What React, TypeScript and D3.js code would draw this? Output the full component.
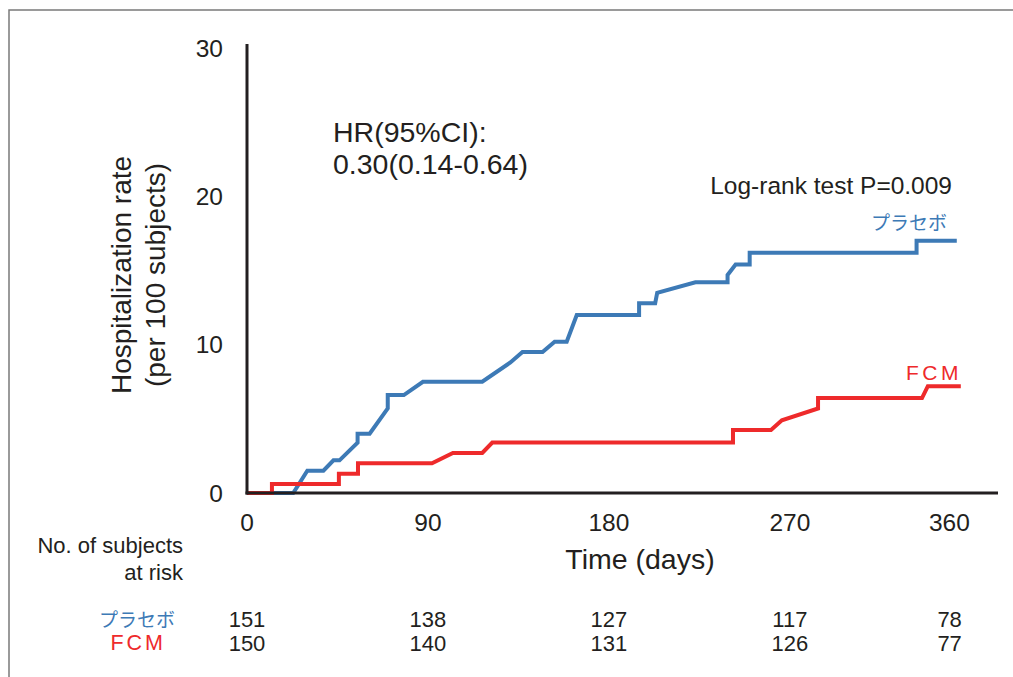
import * as d3 from 'd3';

const W = 1013;
const H = 677;

// Kaplan–Meier style cumulative hospitalization (per 100 subjects)
const placeboDays = [0, 23, 30, 38, 43, 46, 55, 55, 61, 70, 70, 78, 87.5, 117, 131, 137, 147, 153, 159, 164, 195, 195, 203, 204, 223, 239, 239, 243, 250, 250, 333, 333, 353];
const placeboRate = [0, 0, 1.5, 1.5, 2.2, 2.2, 3.4, 4.0, 4.0, 5.7, 6.6, 6.6, 7.5, 7.5, 8.8, 9.5, 9.5, 10.2, 10.2, 12.0, 12.0, 12.8, 12.8, 13.5, 14.2, 14.2, 14.7, 15.4, 15.4, 16.2, 16.2, 17.0, 17.0];

const fcmDays = [0, 12.4, 12.4, 45.7, 45.7, 55.2, 55.2, 92, 102.4, 117, 122, 241.7, 241.7, 260.6, 266, 284, 284, 335.7, 338.6, 355];
const fcmRate = [0, 0, 0.6, 0.6, 1.3, 1.3, 2.0, 2.0, 2.7, 2.7, 3.4, 3.4, 4.25, 4.25, 4.9, 5.7, 6.4, 6.4, 7.2, 7.2];

const xTicks = [0, 90, 180, 270, 360];
const yTicks = [0, 10, 20, 30];
const atRiskPlacebo = [151, 138, 127, 117, 78];
const atRiskFcm = [150, 140, 131, 126, 77];

const BLUE = '#3d7ab6';
const RED = '#ee2a2b';
const INK = '#231f20';
const FONT = '"Liberation Sans", Arial, sans-serif';
const JP = '"Noto Sans CJK JP", "Noto Sans", sans-serif';

const x = d3.scaleLinear().domain([0, 373]).range([247, 997]);
const y = d3.scaleLinear().domain([0, 30]).range([493, 48]);

const line = d3.line<[number, number]>()
    .x(d => x(d[0]))
    .y(d => y(d[1]));

export default function App() {
    const placebo = placeboDays.map((d, i) => [d, placeboRate[i]] as [number, number]);
    const fcm = fcmDays.map((d, i) => [d, fcmRate[i]] as [number, number]);
    const last = xTicks.length - 1;

    return (
        <svg width={W} height={H} style={{ position: 'absolute', left: 0, top: 0, background: '#fff' }}>
            {/* frame */}
            <path d={`M9,${H} L9,10 L${W},10`} fill="none" stroke="#7a7a7a" strokeWidth={1.5} />

            {/* curves */}
            <path d={line(placebo) || ''} fill="none" stroke={BLUE} strokeWidth={4} strokeLinejoin="miter" />
            <path d={line(fcm) || ''} fill="none" stroke={RED} strokeWidth={4} strokeLinejoin="miter" />

            {/* axes */}
            <line x1={x(0)} x2={x(0)} y1={44} y2={y(0) + 1.5} stroke={INK} strokeWidth={3} />
            <line x1={x(0) - 1.5} x2={998} y1={y(0)} y2={y(0)} stroke={INK} strokeWidth={3} />

            {yTicks.map(t => (
                <text key={t} x={223} y={y(t)} dy="0.36em" textAnchor="end" fontFamily={FONT} fontSize={24.5} fill={INK}>{t}</text>
            ))}
            {xTicks.map((t, i) => (
                <text key={t} x={i === last ? x(t) - 1 : x(t)} y={531} textAnchor={i === last ? 'end' : 'middle'}
                    fontFamily={FONT} fontSize={24.5} fill={INK}>{t}</text>
            ))}

            {/* axis titles */}
            <g transform="translate(131,275) rotate(-90)">
                <text x={0} y={0} textAnchor="middle" fontFamily={FONT} fontSize={28} fill={INK}>Hospitalization rate</text>
                <text x={0} y={34} textAnchor="middle" fontFamily={FONT} fontSize={28} fill={INK}>(per 100 subjects)</text>
            </g>
            <text x={640} y={569} textAnchor="middle" fontFamily={FONT} fontSize={28.5} fill={INK}>Time (days)</text>

            {/* annotations */}
            <text x={333} y={142} fontFamily={FONT} fontSize={28.5} fill={INK}>HR(95%CI):</text>
            <text x={333} y={174} fontFamily={FONT} fontSize={28.5} fill={INK}>0.30(0.14-0.64)</text>
            <text x={952} y={194} textAnchor="end" fontFamily={FONT} fontSize={24.5} fill={INK}>Log-rank test P=0.009</text>
            <text x={947} y={230} textAnchor="end" fontFamily={JP} fontSize={19} fill={BLUE}>プラセボ</text>
            <text x={962} y={380} textAnchor="end" fontFamily={FONT} fontSize={21} letterSpacing={3.5} fill={RED}>FCM</text>

            {/* number at risk */}
            <text x={183} y={553} textAnchor="end" fontFamily={FONT} fontSize={22} fill={INK}>No. of subjects</text>
            <text x={183} y={580} textAnchor="end" fontFamily={FONT} fontSize={22} fill={INK}>at risk</text>
            <text x={175} y={627} textAnchor="end" fontFamily={JP} fontSize={19} fill={BLUE}>プラセボ</text>
            <text x={166} y={650} textAnchor="end" fontFamily={FONT} fontSize={21.5} letterSpacing={3} fill={RED}>FCM</text>
            {atRiskPlacebo.map((n, i) => (
                <text key={'p' + i} x={i === last ? x(xTicks[i]) - 9 : x(xTicks[i])} y={627} textAnchor={i === last ? 'end' : 'middle'}
                    fontFamily={FONT} fontSize={22} fill={INK}>{n}</text>
            ))}
            {atRiskFcm.map((n, i) => (
                <text key={'f' + i} x={i === last ? x(xTicks[i]) - 9 : x(xTicks[i])} y={651} textAnchor={i === last ? 'end' : 'middle'}
                    fontFamily={FONT} fontSize={22} fill={INK}>{n}</text>
            ))}
        </svg>
    );
}
